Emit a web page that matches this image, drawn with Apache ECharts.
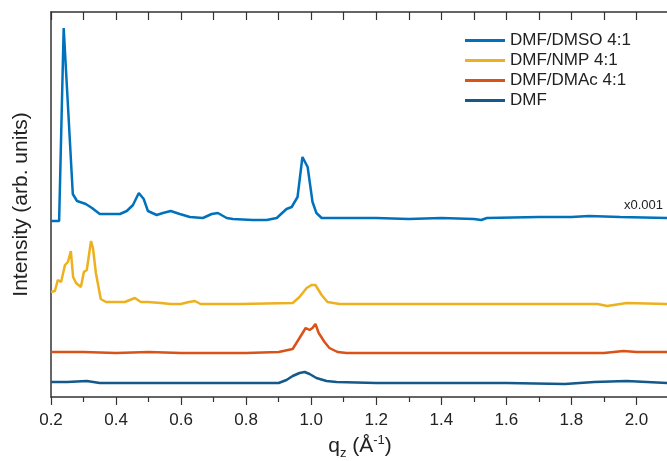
<!DOCTYPE html>
<html>
<head>
<meta charset="utf-8">
<script src="https://cdn.jsdelivr.net/npm/echarts@6/dist/echarts.min.js"></script>
<style>html,body{margin:0;padding:0;background:#fff}#c{width:667px;height:461px}</style>
</head>
<body>
<div id="c"></div>
<script>
// q_z (1/Å) and intensity (arb. units, curves vertically offset)
const dmsoQ = [0.200,0.225,0.228,0.239,0.267,0.280,0.307,0.326,0.350,0.381,0.412,0.433,0.452,0.470,0.485,0.498,0.525,0.544,0.568,0.596,0.627,0.667,0.694,0.713,0.740,0.759,0.820,0.863,0.894,0.924,0.940,0.958,0.973,0.989,1.004,1.016,1.032,1.087,1.200,1.300,1.400,1.500,1.523,1.540,1.700,1.800,1.854,1.950,2.100];
const dmsoI = [176,176,176,369,203,196,193,189,183,183,183,186,192,204,198,186,182,184,186,183,180,179,183,184,179,178,177,177,179,188,190,200,240,230,195,184,179,179,179,178,179,178,177,179,180,180,181,180,179];

const nmpQ = [0.200,0.212,0.221,0.231,0.243,0.252,0.261,0.268,0.277,0.292,0.301,0.310,0.323,0.329,0.338,0.353,0.369,0.396,0.427,0.458,0.476,0.498,0.538,0.568,0.599,0.624,0.642,0.660,0.780,0.943,0.964,0.986,1.001,1.013,1.032,1.050,1.087,1.200,1.400,1.600,1.880,1.910,1.970,2.100];
const nmpI = [105,106,117,115,132,135,146,120,114,110,125,127,156,149,124,98,95,95,95,99,95,95,94,93,93,95,96,93,93,94,100,109,112,112,102,95,93,93,93,93,93,91,94,93];

const dmacQ = [0.200,0.300,0.400,0.500,0.600,0.700,0.800,0.900,0.943,0.964,0.983,0.995,1.004,1.013,1.023,1.041,1.056,1.081,1.109,1.300,1.500,1.700,1.900,1.960,2.000,2.100];
const dmacI = [45,45,44,45,44,44,44,45,48,59,69,67,69,73,64,55,49,45,44,44,44,44,44,46,45,45];

const dmfQ = [0.200,0.250,0.310,0.350,0.500,0.700,0.900,0.924,0.943,0.964,0.980,0.995,1.016,1.047,1.078,1.200,1.400,1.600,1.780,1.870,1.970,2.100];
const dmfI = [15,15,16,14,14,14,14,17,21,24,25,23,19,16,15,14,14,14,13,15,16,14];

const seriesNames = ['DMF/DMSO 4:1','DMF/NMP 4:1','DMF/DMAc 4:1','DMF'];
const xTicks = [0.2,0.4,0.6,0.8,1.0,1.2,1.4,1.6,1.8,2.0];
const scaleNote = 'x0.001';

const zip = (a,b) => a.map((v,i)=>[v,b[i]]);
const colors = ['#0072BD','#EDB120','#D95319','#14598A'];
const datas = [zip(dmsoQ,dmsoI), zip(nmpQ,nmpI), zip(dmacQ,dmacI), zip(dmfQ,dmfI)];

const chart = echarts.init(document.getElementById('c'), null, {renderer:'canvas'});
const font = 'Liberation Sans, Arial, sans-serif';
chart.setOption({
  animation:false,
  grid:{left:51, right:-2, top:12, bottom:64, outerBoundsMode:'none', containLabel:false},
  legend:{
    orient:'vertical', left:465, top:32, padding:0, itemWidth:40, itemHeight:3, itemGap:3,
    icon:'rect',
    textStyle:{fontFamily:font, fontSize:17, color:'#222'},
    data:seriesNames
  },
  xAxis:[{
    type:'value', min:0.2, max:2.1, interval:0.2, position:'bottom',
    axisLine:{lineStyle:{color:'#333', width:1.5}},
    axisTick:{show:true, inside:false, length:8, lineStyle:{color:'#333', width:1.2}},
    minorTick:{show:true, splitNumber:2, length:5, lineStyle:{color:'#333', width:1.2}},
    splitLine:{show:false},
    axisLabel:{margin:15, fontFamily:font, fontSize:17, color:'#222',
      formatter:v => xTicks.some(t=>Math.abs(t-v)<1e-6) ? v.toFixed(1) : ''},
    name:'{q|q}{s|z}{q| (Å}{p|-1}{q|)}', nameLocation:'middle', nameGap:37,
    nameTextStyle:{rich:{
      q:{fontFamily:font, fontSize:21, color:'#222', verticalAlign:'top', padding:[2,0,0,0]},
      s:{fontFamily:font, fontSize:13, color:'#222', verticalAlign:'top', padding:[13,0,0,0]},
      p:{fontFamily:font, fontSize:13, color:'#222', verticalAlign:'top', padding:[0,0,0,0]}
    }}
  },{
    type:'value', min:0.2, max:2.1, interval:0.1, position:'top',
    axisLine:{lineStyle:{color:'#333', width:1.5}},
    axisTick:{show:true, inside:true, length:8, lineStyle:{color:'#333', width:1.2}},
    axisLabel:{show:false}, splitLine:{show:false}
  }],
  yAxis:{
    type:'value', min:0, max:385,
    axisLine:{show:true, lineStyle:{color:'#333', width:1.5}},
    axisTick:{show:false}, axisLabel:{show:false}, splitLine:{show:false},
    name:'Intensity (arb. units)', nameLocation:'middle', nameGap:19,
    nameTextStyle:{fontFamily:font, fontSize:21, color:'#222'}
  },
  graphic:[{
    type:'text', left:624, top:199,
    style:{text:scaleNote, font:'13px Liberation Sans, Arial, sans-serif', fill:'#222'}
  }],
  series: seriesNames.map((n,i)=>({
    name:n, type:'line', data:datas[i], showSymbol:false, symbol:'none',
    lineStyle:{color:colors[i], width:2.5}, itemStyle:{color:colors[i]},
    xAxisIndex:0, z: 10-i
  }))
});
</script>
</body>
</html>
